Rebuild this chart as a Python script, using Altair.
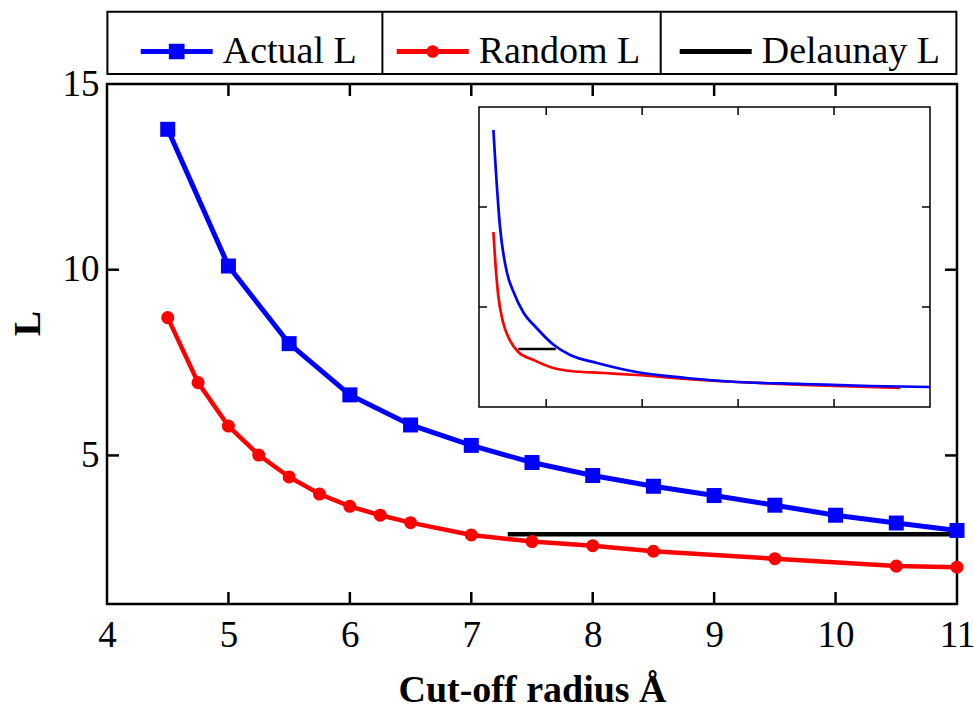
import altair as alt
import pandas as pd

# ---------------- data ----------------
SERIES = ["Actual L", "Random L", "Delaunay L"]
COLORS = ["#0000ff", "#ff0000", "#000000"]

actual_r = [4.5, 5, 5.5, 6, 6.5, 7, 7.5, 8, 8.5, 9, 9.5, 10, 10.5, 11]
actual_L = [13.78, 10.10, 8.01, 6.63, 5.82, 5.27, 4.81, 4.46, 4.17, 3.92, 3.66, 3.39, 3.18, 2.98]

random_r = [4.5, 4.75, 5, 5.25, 5.5, 5.75, 6, 6.25, 6.5, 7, 7.5, 8, 8.5, 9.5, 10.5, 11]
random_L = [8.71, 6.96, 5.79, 5.01, 4.42, 3.96, 3.63, 3.39, 3.19, 2.86, 2.68, 2.57, 2.42, 2.22, 2.02, 1.99]

delaunay_r = [7.3, 11]
delaunay_L = [2.88, 2.88]

# inset (no labels in the original; read from its shape)
inset_actual_r = [3.45, 3.47, 3.52, 3.59, 3.66, 3.76, 3.90, 4.08, 4.25, 4.53, 4.94, 5.46, 5.99, 6.68, 7.38, 8.0]
inset_actual_L = [27.7, 24.5, 17.9, 13.5, 11.5, 9.5, 7.9, 6.2, 5.2, 4.4, 3.5, 2.9, 2.5, 2.3, 2.1, 2.0]
inset_random_r = [3.45, 3.47, 3.50, 3.55, 3.62, 3.71, 3.87, 4.04, 4.25, 4.60, 4.94, 5.46, 5.99, 6.68, 7.69]
inset_random_L = [17.5, 14.5, 11.2, 8.5, 6.7, 5.5, 4.7, 4.0, 3.6, 3.4, 3.2, 2.8, 2.5, 2.2, 1.9]
inset_delaunay_r = [3.71, 4.10]
inset_delaunay_L = [5.8, 5.8]

x_ticks = [4, 5, 6, 7, 8, 9, 10, 11]
y_ticks = [5, 10, 15]
x_minor = [5, 6, 7, 8, 9, 10]
y_minor = [5, 10]
inset_x_ticks = [4, 5, 6, 7]
inset_y_ticks = [10, 20]

# ---------------- style ----------------
FONT = "Liberation Serif"
W, H = 850, 520
TICK = 12

# legend symbols: line with marker (custom SVG paths in unit coords)
P_ACTUAL = "M-1.9,0H5.3M1.165,-0.535H2.235V0.535H1.165ZM1.55,-0.15H1.85V0.15H1.55Z"
P_RANDOM = ("M-1.9,0H5.3M1.32,0A0.38,0.38,0,1,1,2.08,0A0.38,0.38,0,1,1,1.32,0Z"
            "M1.6,0A0.1,0.1,0,1,1,1.8,0A0.1,0.1,0,1,1,1.6,0Z")
P_DELAUNAY = "M-1.9,0H5.3"

x_scale = alt.Scale(domain=[4, 11], nice=False, zero=False)
y_scale = alt.Scale(domain=[1, 15], nice=False, zero=False)

x_axis = alt.Axis(values=x_ticks, title="Cut-off radius Å", grid=False, domain=False,
                  ticks=False, tickSize=0, labelFlush=False, labelOverlap=False,
                  labelPadding=13, labelFontSize=37, labelFont=FONT, labelColor="black",
                  titleFont=FONT, titleFontSize=38, titleFontWeight="bold", titleColor="black",
                  titleX=425, titleY=97, titleAlign="center", titleBaseline="alphabetic",
                  titleAngle=0)
y_axis = alt.Axis(values=y_ticks, title="L", grid=False, domain=False,
                  ticks=False, tickSize=0, labelFlush=False, labelOverlap=False,
                  labelPadding=8, labelFontSize=37, labelFont=FONT, labelColor="black",
                  titleFont=FONT, titleFontSize=38, titleFontWeight="bold", titleColor="black",
                  titleX=-68, titleY=239, titleAlign="center", titleBaseline="alphabetic",
                  titleAngle=270)


def X(field):
    return alt.X(f"{field}:Q", scale=x_scale, axis=x_axis)


def Y(field):
    return alt.Y(f"{field}:Q", scale=y_scale, axis=y_axis)


actual_df = pd.DataFrame({"r": actual_r, "L": actual_L})
random_df = pd.DataFrame({"r": random_r, "L": random_L})
delaunay_df = pd.DataFrame({"r": delaunay_r, "L": delaunay_L})

one = pd.DataFrame({"a": [0]})
frame = alt.Chart(one).mark_rect(fillOpacity=0, stroke="black", strokeWidth=2.5).encode(
    x=alt.value(0), x2=alt.value(W), y=alt.value(0), y2=alt.value(H))

actual_line = alt.Chart(actual_df).mark_line(color=COLORS[0], strokeWidth=5).encode(x=X("r"), y=Y("L"))
actual_pts = alt.Chart(actual_df).mark_point(shape="square", filled=True, size=225, opacity=1,
                                             color=COLORS[0]).encode(x=X("r"), y=Y("L"))
random_line = alt.Chart(random_df).mark_line(color=COLORS[1], strokeWidth=4.5).encode(x=X("r"), y=Y("L"))
random_pts = alt.Chart(random_df).mark_point(shape="circle", filled=True, size=170, opacity=1,
                                             color=COLORS[1]).encode(x=X("r"), y=Y("L"))
delaunay_line = alt.Chart(delaunay_df).mark_line(color=COLORS[2], strokeWidth=4.5).encode(x=X("r"), y=Y("L"))

xm_df = pd.DataFrame({"t": x_minor})
ym_df = pd.DataFrame({"t": y_minor})
tick_style = dict(color="black", strokeWidth=2.5)
xt_bottom = alt.Chart(xm_df).mark_rule(**tick_style).encode(x=X("t"), y=alt.value(H), y2=alt.value(H - TICK))
xt_top = alt.Chart(xm_df).mark_rule(**tick_style).encode(x=X("t"), y=alt.value(0), y2=alt.value(TICK))
yt_left = alt.Chart(ym_df).mark_rule(**tick_style).encode(y=Y("t"), x=alt.value(0), x2=alt.value(TICK))
yt_right = alt.Chart(ym_df).mark_rule(**tick_style).encode(y=Y("t"), x=alt.value(W), x2=alt.value(W - TICK))

# legend
leg = alt.Legend(orient="none", legendX=33.7, legendY=-51.5, direction="horizontal", columns=3,
                 columnPadding=29, padding=0, title=None, symbolSize=400, symbolStrokeWidth=5,
                 symbolOpacity=1, labelFont=FONT, labelFontSize=38, labelOffset=44, labelLimit=400,
                 labelColor="black")
legend_df = pd.DataFrame({"series": SERIES})
legend_layer = alt.Chart(legend_df).transform_filter("false").mark_point(
    filled=False, opacity=1, strokeWidth=5
).encode(
    color=alt.Color("series:N", scale=alt.Scale(domain=SERIES, range=COLORS), legend=leg, sort=SERIES),
    shape=alt.Shape("series:N", scale=alt.Scale(domain=SERIES, range=[P_ACTUAL, P_RANDOM, P_DELAUNAY]),
                    legend=leg, sort=SERIES),
)
legend_box = alt.Chart(one).mark_rect(fillOpacity=0, stroke="black", strokeWidth=2).encode(
    x=alt.value(0.4), x2=alt.value(849.4), y=alt.value(-72.3), y2=alt.value(-10))
div1 = alt.Chart(one).mark_rule(color="black", strokeWidth=2).encode(
    x=alt.value(275.4), y=alt.value(-72.3), y2=alt.value(-10))
div2 = alt.Chart(one).mark_rule(color="black", strokeWidth=2).encode(
    x=alt.value(553.7), y=alt.value(-72.3), y2=alt.value(-10))

main = alt.layer(frame, xt_bottom, xt_top, yt_left, yt_right,
                 actual_line, random_line, delaunay_line, actual_pts, random_pts,
                 legend_layer, legend_box, div1, div2)

# ---------------- inset ----------------
IX_DOMAIN = [3.3, 8.0]
IY_DOMAIN = [0, 30]
ix_scale = alt.Scale(domain=IX_DOMAIN, range=[372, 823], nice=False, zero=False)
iy_scale = alt.Scale(domain=IY_DOMAIN, range=[323, 23], nice=False, zero=False)


def IX(field):
    return alt.X(f"{field}:Q", scale=ix_scale, axis=None)


def IY(field):
    return alt.Y(f"{field}:Q", scale=iy_scale, axis=None)


frame_df = pd.DataFrame({"x0": [IX_DOMAIN[0]], "x1": [IX_DOMAIN[1]], "y0": [IY_DOMAIN[0]], "y1": [IY_DOMAIN[1]]})
inset_frame = alt.Chart(frame_df).mark_rect(fill="white", stroke="black", strokeWidth=1.5).encode(
    x=IX("x0"), x2="x1:Q", y=IY("y0"), y2="y1:Q")

ia_df = pd.DataFrame({"r": inset_actual_r, "L": inset_actual_L})
ir_df = pd.DataFrame({"r": inset_random_r, "L": inset_random_L})
id_df = pd.DataFrame({"r": inset_delaunay_r, "L": inset_delaunay_L})
inset_black = alt.Chart(id_df).mark_line(color="black", strokeWidth=2.7).encode(x=IX("r"), y=IY("L"))
inset_red = alt.Chart(ir_df).mark_line(color=COLORS[1], strokeWidth=2.7, interpolate="monotone").encode(
    x=IX("r"), y=IY("L"))
inset_blue = alt.Chart(ia_df).mark_line(color=COLORS[0], strokeWidth=2.7, interpolate="monotone").encode(
    x=IX("r"), y=IY("L"))

ixt_df = pd.DataFrame({"t": inset_x_ticks})
iyt_df = pd.DataFrame({"t": inset_y_ticks})
itick = dict(color="black", strokeWidth=1.5)
ixt_b = alt.Chart(ixt_df).mark_rule(**itick).encode(x=IX("t"), y=alt.value(323), y2=alt.value(315))
ixt_t = alt.Chart(ixt_df).mark_rule(**itick).encode(x=IX("t"), y=alt.value(23), y2=alt.value(31))
iyt_l = alt.Chart(iyt_df).mark_rule(**itick).encode(y=IY("t"), x=alt.value(372), x2=alt.value(380))
iyt_r = alt.Chart(iyt_df).mark_rule(**itick).encode(y=IY("t"), x=alt.value(823), x2=alt.value(815))

inset = alt.layer(inset_frame, inset_black, inset_red, inset_blue, ixt_b, ixt_t, iyt_l, iyt_r)

chart = (
    alt.layer(main, inset)
    .resolve_scale(x="independent", y="independent")
    .properties(width=W, height=H, autosize=alt.AutoSizeParams(type="none"),
                padding={"left": 107, "top": 84, "right": 17, "bottom": 106})
    .configure_view(strokeWidth=0)
    .configure(background="white")
)

chart.save("out.html", embed_options={"renderer": "svg", "actions": False})
